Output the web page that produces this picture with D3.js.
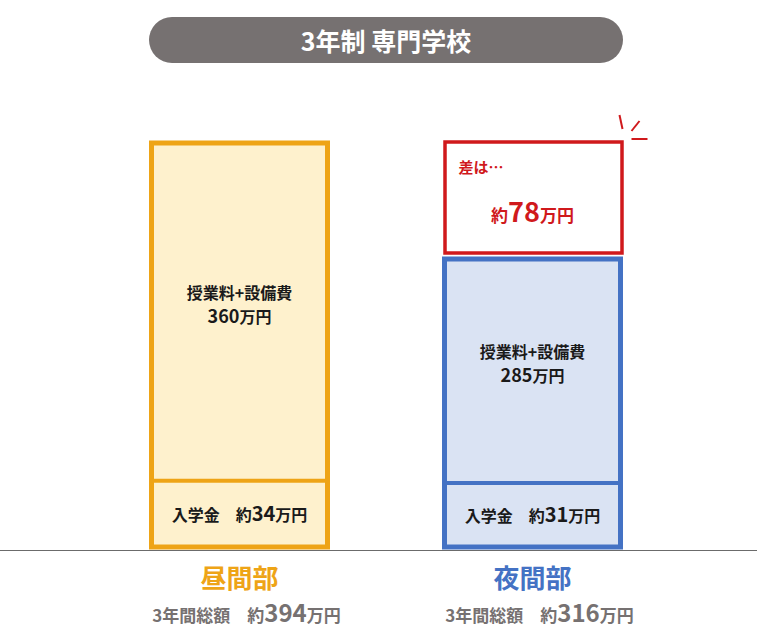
<!DOCTYPE html>
<html>
<head>
<meta charset="utf-8">
<script src="https://cdn.jsdelivr.net/npm/d3@7"></script>
<style>
  html, body { margin: 0; padding: 0; background: #fff; }
  svg { display: block; }
  text { font-family: "Noto Sans CJK JP", sans-serif; font-weight: 700; }
</style>
</head>
<body>
<div id="chart"></div>
<script>
// data
const title = '3年制 専門学校';
const courses = ['昼間部', '夜間部'];
const entranceFee = [34, 31];
const tuition = [360, 285];
const totals = [394, 316];
const difference = 78;
const segmentLabel = '授業料+設備費';
const entranceLabel = '入学金';
const totalLabel = '3年間総額';
const diffLabel = '差は…';

const W = 783, H = 637;
const colors = {
  stroke: ['#EEA416', '#4472C4'],
  fill: ['#FEF1CD', '#DAE3F3'],
  red: '#D0191C',
  gray: '#767171'
};

const svg = d3.select('#chart').append('svg')
  .attr('width', W)
  .attr('height', H);

// title pill
svg.append('rect')
  .attr('x', 149).attr('y', 17)
  .attr('width', 474).attr('height', 46)
  .attr('rx', 23)
  .attr('fill', colors.gray);
svg.append('text')
  .attr('x', 386).attr('y', 40)
  .attr('text-anchor', 'middle')
  .attr('dominant-baseline', 'central')
  .attr('fill', '#fff')
  .attr('font-size', 25)
  .text(title);

// scales (schematic, piecewise linear like the original)
const x = d3.scalePoint().domain(courses).range([239.5, 532.5]);
const barW = 176;
const y = d3.scaleLinear()
  .domain([0, 31, 316, 394])
  .range([547, 483, 259, 143]);

const rows = courses.map((c, i) => ({
  course: c, i,
  entrance: entranceFee[i],
  tuition: tuition[i],
  total: totals[i]
}));

// baseline
svg.append('line')
  .attr('x1', 0).attr('x2', 757)
  .attr('y1', 550.5).attr('y2', 550.5)
  .attr('stroke', '#6b6b6b')
  .attr('stroke-width', 1);

const bars = svg.selectAll('g.bar')
  .data(rows)
  .enter().append('g')
  .attr('class', 'bar');

// outer bar
bars.append('rect')
  .attr('x', d => x(d.course) - barW / 2)
  .attr('y', d => y(d.total))
  .attr('width', barW)
  .attr('height', d => y(0) - y(d.total))
  .attr('fill', d => colors.fill[d.i])
  .attr('stroke', d => colors.stroke[d.i])
  .attr('stroke-width', 5);

// divider between entrance fee and tuition
bars.append('line')
  .attr('x1', d => x(d.course) - barW / 2)
  .attr('x2', d => x(d.course) + barW / 2)
  .attr('y1', d => y(d.entrance))
  .attr('y2', d => y(d.entrance))
  .attr('stroke', d => colors.stroke[d.i])
  .attr('stroke-width', 4);

// tuition labels
bars.append('text')
  .attr('x', d => x(d.course))
  .attr('y', d => (y(d.entrance) + y(d.total)) / 2 - 13)
  .attr('text-anchor', 'middle')
  .attr('font-size', 16)
  .attr('fill', '#1a1a1a')
  .text(segmentLabel);
const tl = bars.append('text')
  .attr('x', d => x(d.course))
  .attr('y', d => (y(d.entrance) + y(d.total)) / 2 + 11)
  .attr('text-anchor', 'middle')
  .attr('fill', '#1a1a1a');
tl.append('tspan').attr('font-size', 18).text(d => d.tuition);
tl.append('tspan').attr('font-size', 16).text('万円');

// entrance labels
const el = bars.append('text')
  .attr('x', d => x(d.course))
  .attr('y', d => (y(0) + y(d.entrance)) / 2 + 7)
  .attr('text-anchor', 'middle')
  .attr('fill', '#1a1a1a');
el.append('tspan').attr('font-size', 16).text(entranceLabel + '\u3000約');
el.append('tspan').attr('font-size', 20).text(d => d.entrance);
el.append('tspan').attr('font-size', 16).text('万円');

// course names
bars.append('text')
  .attr('x', d => x(d.course))
  .attr('y', 588)
  .attr('text-anchor', 'middle')
  .attr('font-size', 26)
  .attr('fill', d => colors.stroke[d.i])
  .text(d => d.course);

// totals
const tt = bars.append('text')
  .attr('x', d => x(d.course) + 7)
  .attr('y', 622)
  .attr('text-anchor', 'middle')
  .attr('fill', colors.gray);
tt.append('tspan').attr('font-size', 17).text(totalLabel + '\u3000約');
tt.append('tspan').attr('font-size', 24).text(d => d.total);
tt.append('tspan').attr('font-size', 17).text('万円');

// difference box on the evening bar
const night = rows[1];
const day = rows[0];
const gx = x(night.course);
svg.append('rect')
  .attr('x', gx - barW / 2 + 0.5)
  .attr('y', y(day.total) - 1)
  .attr('width', barW + 1)
  .attr('height', y(night.total) - y(night.total + difference) - 5)
  .attr('fill', '#fff')
  .attr('stroke', colors.red)
  .attr('stroke-width', 3.5);
svg.append('text')
  .attr('x', gx - barW / 2 + 14)
  .attr('y', 173)
  .attr('font-size', 15)
  .attr('fill', colors.red)
  .text(diffLabel);
const dl = svg.append('text')
  .attr('x', gx)
  .attr('y', 222)
  .attr('text-anchor', 'middle')
  .attr('fill', colors.red);
dl.append('tspan').attr('font-size', 17).text('約');
dl.append('tspan').attr('font-size', 27).text(difference);
dl.append('tspan').attr('font-size', 17).text('万円');

// little burst marks at the box corner
const cx = gx + barW / 2, cy = y(day.total);
const burst = [[[-1, -28], [2, -14]], [[19, -22], [11, -12]], [[11, -4], [27, -4]]];
svg.selectAll('line.burst')
  .data(burst)
  .enter().append('line')
  .attr('class', 'burst')
  .attr('x1', d => cx + d[0][0]).attr('y1', d => cy + d[0][1])
  .attr('x2', d => cx + d[1][0]).attr('y2', d => cy + d[1][1])
  .attr('stroke', colors.red)
  .attr('stroke-width', 2);
</script>
</body>
</html>
